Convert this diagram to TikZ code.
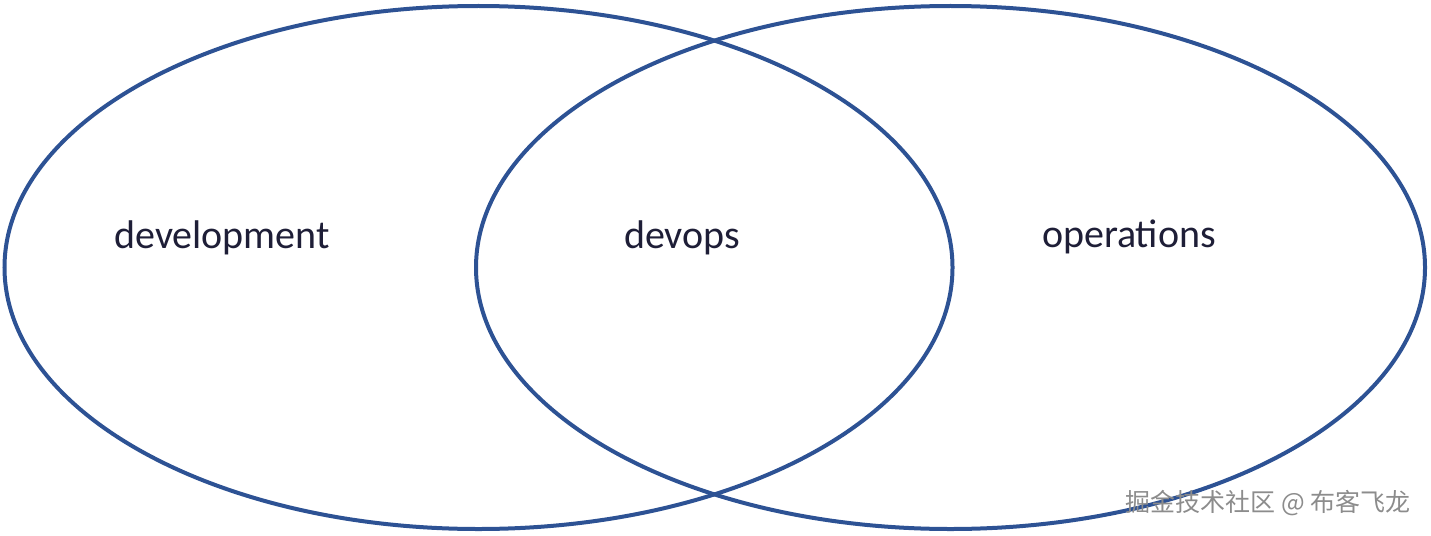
\documentclass[tikz,border=0pt]{standalone}
\usepackage{fontspec}
\setmainfont{Carlito}
\newfontfamily\cjkfont{Noto Sans CJK SC}
\usepackage{xcolor}
\usepackage{tikz}
\usetikzlibrary{shapes.geometric, positioning}

\definecolor{vennblue}{RGB}{45,82,148}
\definecolor{labelink}{RGB}{30,30,55}

\begin{document}
\begin{tikzpicture}[
        x=1pt, y=-1pt,
        venn/.style={ellipse, draw=vennblue, line width=4pt, inner sep=0pt,
                     minimum width=948pt, minimum height=523pt},
        area/.style={anchor=base, text=labelink, font=\fontsize{40}{48}\selectfont},
        wmark/.style={anchor=base east, text=black!45, font=\cjkfont\fontsize{25}{30}\selectfont}
      ]

      % page size
      \useasboundingbox (0,0) rectangle (1431,535);

      % Two sets
      \node (dev_set) [venn] at (478.5,267.5) {};
      \node (ops_set) [venn, minimum width=949pt] at (950.5,267.5) {};

      % Labels
      \node (dev_label) [area] at (222,248) {development};
      \node (devops_label) [area] at (682,248) {devops};
      \node (ops_label) [area] at (1129,247) {operations};

      % Watermark
      \node (site_mark) [wmark] at (1414,511) {掘金技术社区 @ 布客飞龙};

    \end{tikzpicture}
\end{document}
